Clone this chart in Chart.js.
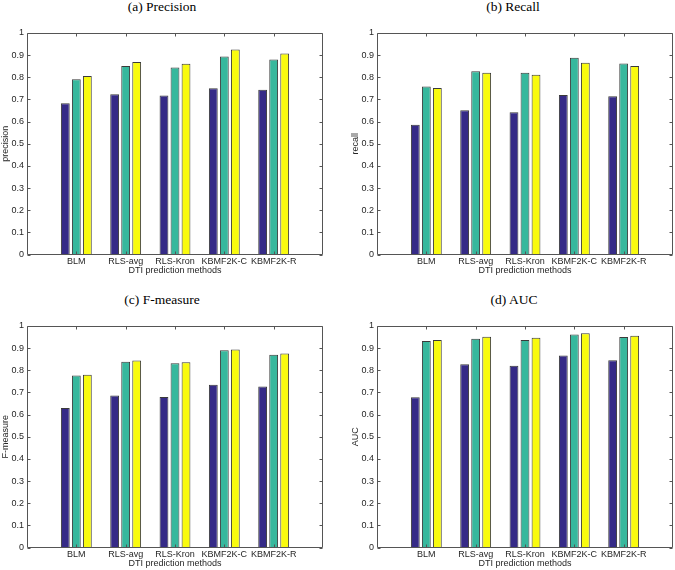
<!DOCTYPE html>
<html>
<head>
<meta charset="utf-8">
<script src="https://cdn.jsdelivr.net/npm/chart.js@4/dist/chart.umd.min.js"></script>
<style>
  html, body { margin: 0; padding: 0; background: #fff; }
  #page { position: relative; width: 675px; height: 570px; overflow: hidden; }
  .panel { position: absolute; width: 325px; height: 277px; }
  .caption {
    position: absolute; width: 200px; text-align: center;
    font-family: 'Liberation Serif', 'Times New Roman', serif;
    font-size: 13.5px; line-height: 14px; color: #000;
  }
</style>
</head>
<body>
<div id="page">
  <div class="caption" style="left:62px; top:0px;">(a) Precision</div>
  <div class="caption" style="left:413px; top:0px;">(b) Recall</div>
  <div class="caption" style="left:62px; top:293px;">(c) F-measure</div>
  <div class="caption" style="left:414px; top:293px;">(d) AUC</div>
  <div class="panel" style="left:0px; top:0px;"><canvas id="chartA" width="325" height="277"></canvas></div>
  <div class="panel" style="left:350px; top:0px;"><canvas id="chartB" width="325" height="277"></canvas></div>
  <div class="panel" style="left:0px; top:293px;"><canvas id="chartC" width="325" height="277"></canvas></div>
  <div class="panel" style="left:350px; top:293px;"><canvas id="chartD" width="325" height="277"></canvas></div>
</div>
<script>
// Métodos comparados (eixo x)
const categories = ['BLM', 'RLS-avg', 'RLS-Kron', 'KBMF2K-C', 'KBMF2K-R'];
const yTicks = [0, 0.1, 0.2, 0.3, 0.4, 0.5, 0.6, 0.7, 0.8, 0.9, 1];

// (a) precision
const precisionBar1 = [0.683, 0.724, 0.718, 0.751, 0.744];
const precisionBar2 = [0.791, 0.851, 0.844, 0.894, 0.880];
const precisionBar3 = [0.806, 0.869, 0.861, 0.926, 0.907];

// (b) recall
const recallBar1 = [0.586, 0.651, 0.642, 0.720, 0.715];
const recallBar2 = [0.758, 0.827, 0.820, 0.888, 0.862];
const recallBar3 = [0.752, 0.821, 0.812, 0.866, 0.851];

// (c) F-measure
const fmeasureBar1 = [0.630, 0.686, 0.679, 0.735, 0.727];
const fmeasureBar2 = [0.776, 0.839, 0.832, 0.891, 0.870];
const fmeasureBar3 = [0.780, 0.844, 0.836, 0.894, 0.876];

// (d) AUC
const aucBar1 = [0.678, 0.827, 0.821, 0.867, 0.845];
const aucBar2 = [0.932, 0.943, 0.937, 0.962, 0.950];
const aucBar3 = [0.937, 0.952, 0.947, 0.967, 0.956];

// Cores das barras (parula)
const barColors = ['#352a87', '#37b89d', '#f9fb0e'];
const edgeColor = '#3a3a3a';
const axisColor = '#555555';
const textColor = '#262626';
const sansFont = "'Liberation Sans', Arial, Helvetica, sans-serif";

// Caixa com ticks para dentro, estilo MATLAB
const boxTicks = {
  id: 'boxTicks',
  afterDraw(chart) {
    const { ctx, chartArea: a, scales: { x, y } } = chart;
    const L = Math.round(a.left) + 0.5, R = Math.round(a.right) - 0.5;
    const T = Math.round(a.top) + 0.5, B = Math.round(a.bottom) - 0.5;
    const len = 3;
    ctx.save();
    ctx.strokeStyle = axisColor;
    ctx.lineWidth = 1;
    ctx.beginPath();
    ctx.rect(L, T, R - L, B - T);
    yTicks.forEach(v => {
      const p = Math.round(y.getPixelForValue(v)) + 0.5;
      ctx.moveTo(L, p); ctx.lineTo(L + len, p);
      ctx.moveTo(R, p); ctx.lineTo(R - len, p);
    });
    categories.forEach((c, i) => {
      const p = Math.round(x.getPixelForValue(i + 1)) + 0.5;
      ctx.moveTo(p, T); ctx.lineTo(p, T + len);
      ctx.moveTo(p, B); ctx.lineTo(p, B - len);
    });
    ctx.stroke();
    ctx.restore();
  }
};

function toPoints(values) {
  return values.map((v, i) => ({ x: i + 1, y: v }));
}

function createMetricChart(canvasId, yLabel, s1, s2, s3, rightPad) {
  const series = [s1, s2, s3];
  return new Chart(document.getElementById(canvasId), {
    type: 'bar',
    data: {
      datasets: series.map((s, k) => ({
        data: toPoints(s),
        backgroundColor: barColors[k],
        borderColor: edgeColor,
        borderWidth: 1,
        borderSkipped: 'bottom',
        categoryPercentage: 0.67,
        barPercentage: 0.8
      }))
    },
    options: {
      responsive: false,
      animation: false,
      layout: { padding: { top: 33, right: rightPad, left: 0, bottom: 0 } },
      plugins: { legend: { display: false }, tooltip: { enabled: false } },
      scales: {
        x: {
          type: 'linear',
          offset: false,
          min: 0,
          max: categories.length + 1,
          grid: { display: false, drawTicks: false, offset: false },
          border: { display: false },
          ticks: {
            stepSize: 1,
            autoSkip: false,
            maxRotation: 0,
            padding: 2,
            color: textColor,
            font: { family: sansFont, size: 9 },
            callback: v => categories[v - 1] || ''
          },
          title: {
            display: true,
            text: 'DTI prediction methods',
            color: textColor,
            font: { family: sansFont, size: 9, lineHeight: 1 },
            padding: { top: 0, bottom: 2 }
          },
          afterFit: scale => { scale.height = 22.5; }
        },
        y: {
          min: 0,
          max: 1,
          grid: { display: false, drawTicks: false },
          border: { display: false },
          ticks: {
            stepSize: 0.1,
            padding: 3,
            color: textColor,
            font: { family: sansFont, size: 9 },
            callback: v => String(+v.toFixed(1))
          },
          title: {
            display: true,
            text: yLabel,
            color: textColor,
            font: { family: sansFont, size: 9, lineHeight: 1 },
            padding: { top: 1, bottom: 0 }
          },
          afterFit: scale => { scale.width = 27; }
        }
      }
    },
    plugins: [boxTicks]
  });
}

createMetricChart('chartA', 'precision', precisionBar1, precisionBar2, precisionBar3, 2);
createMetricChart('chartB', 'recall', recallBar1, recallBar2, recallBar3, 1);
createMetricChart('chartC', 'F-measure', fmeasureBar1, fmeasureBar2, fmeasureBar3, 2);
createMetricChart('chartD', 'AUC', aucBar1, aucBar2, aucBar3, 1);
</script>
</body>
</html>
